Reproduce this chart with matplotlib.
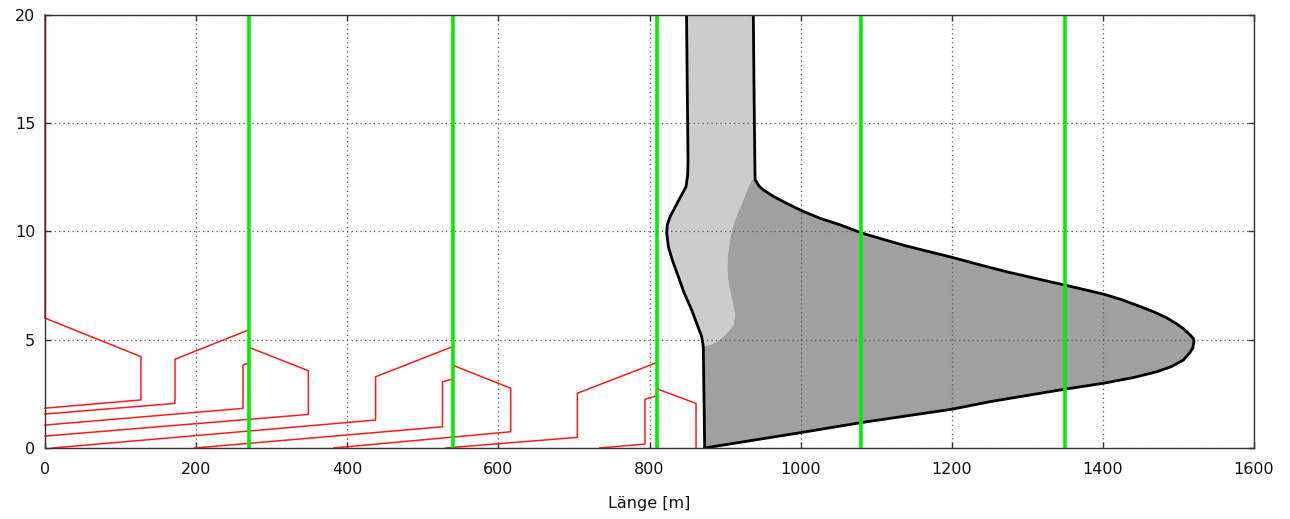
import matplotlib
matplotlib.use("Agg")
import matplotlib.pyplot as plt
import numpy as np

# ---------------- data ----------------
x_ticks = [0, 200, 400, 600, 800, 1000, 1200, 1400, 1600]
y_ticks = [0, 5, 10, 15, 20]

# green vertical markers
green_x = [270, 540, 810, 1080, 1350]

# red building / ray polylines
red0_x = [0, 0, 127, 127, 0]
red0_y = [20, 6.0, 4.22, 2.22, 1.84]

red1_x = [0, 172, 172, 270, 270, 348.5, 348.5, 0]
red1_y = [1.57, 2.06, 4.10, 5.46, 4.65, 3.57, 1.55, 0.55]

red2_x = [0, 262, 262, 270]
red2_y = [1.06, 1.83, 3.83, 3.93]

red3_x = [10, 437.5, 437.5, 540, 540, 616.3, 616.3, 382]
red3_y = [0.0, 1.29, 3.29, 4.69, 3.82, 2.76, 0.75, 0.0]

red4_x = [198, 526, 526, 540]
red4_y = [0.0, 0.98, 3.06, 3.19]

red5_x = [530, 704.5, 704.5, 810, 810, 861.6, 861.6]
red5_y = [0.0, 0.49, 2.53, 3.95, 2.73, 2.06, 0.0]

red6_x = [734, 794, 794, 810]
red6_y = [0.0, 0.18, 2.25, 2.42]

# light grey region (upper column)
light_left_x = [871.2, 869.1, 862.0, 855.9, 846.0, 838.2, 830.0, 825.0, 822.8, 823.5, 827.2, 838.0, 848.3, 850.5, 851.0, 850.0, 849.0]
light_left_y = [4.68, 5.14, 5.80, 6.37, 7.15, 7.91, 8.70, 9.30, 9.92, 10.30, 10.68, 11.40, 12.07, 12.60, 13.30, 16.5, 20.0]
light_right_x = [937.4, 938.5, 939.7]
light_right_y = [20.0, 16.0, 12.40]

# inner boundary between light and dark grey (top to bottom)
inner_x = [939.7, 935.2, 929.0, 924.2, 918.0, 913.2, 909.0, 906.6, 904.0, 903.0, 904.0, 906.6, 910.0, 913.2, 911.0, 905.0, 897.7, 889.0, 880.0, 871.2]
inner_y = [12.40, 12.38, 11.90, 11.45, 10.95, 10.53, 10.05, 9.61, 9.00, 8.37, 7.80, 7.30, 6.75, 6.22, 5.68, 5.40, 5.14, 4.90, 4.76, 4.68]

# dark grey outer boundary (from column top-right around tip back to ground)
outer_x = [939.7, 945.0, 950.7, 965.0, 981.5, 1002.0, 1025.7, 1052.0, 1080.0, 1110.0, 1140.0, 1170.0, 1200.0, 1236.0, 1272.7, 1310.0, 1349.0, 1400.6, 1425.0, 1449.6, 1468.0, 1484.0, 1497.0, 1507.0, 1515.5, 1520.0, 1520.5, 1519.0, 1515.0, 1506.5, 1490.0, 1471.0, 1440.0, 1400.6, 1348.5, 1290.0, 1250.7, 1200.0, 1079.5, 1000.0, 873.0]
outer_y = [12.40, 12.10, 11.92, 11.60, 11.30, 10.95, 10.61, 10.31, 9.94, 9.63, 9.33, 9.07, 8.81, 8.47, 8.14, 7.84, 7.53, 7.11, 6.85, 6.53, 6.28, 6.02, 5.75, 5.50, 5.22, 5.05, 4.92, 4.62, 4.40, 4.06, 3.75, 3.52, 3.25, 2.99, 2.71, 2.37, 2.14, 1.79, 1.17, 0.71, 0.0]

wall_x = [873.0, 871.2]
wall_y = [0.0, 4.68]

# ---------------- figure ----------------
plt.rcParams['font.family'] = ['DejaVu Sans']
fig = plt.figure(figsize=(12.9, 5.19), dpi=100)
ax = fig.add_axes([45/1290, 1 - 448/519, (1254-45)/1290, (448-15)/519])
ax.set_xlim(0, 1600)
ax.set_ylim(0, 20)

# fills
lx = light_left_x + light_right_x + inner_x[1:]
ly = light_left_y + light_right_y + inner_y[1:]
ax.fill(lx, ly, color='#cccccc', lw=0, zorder=1)

dx = wall_x + inner_x[::-1][1:] + outer_x[1:]
dy = wall_y + inner_y[::-1][1:] + outer_y[1:]
ax.fill(dx, dy, color='#a0a0a0', lw=0, zorder=1)

# grid on top of fills
ax.set_axisbelow(False)
ax.grid(True, color='#555555', lw=0.9, ls=(0, (1, 2.6)))

# black outlines
ax.plot(wall_x + light_left_x, wall_y + light_left_y, color='black', lw=2.0, zorder=3, solid_joinstyle='round')
ax.plot(light_right_x + outer_x[1:], light_right_y + outer_y[1:], color='black', lw=2.0, zorder=3, solid_joinstyle='round')

# red lines
for xs, ys in [(red0_x, red0_y), (red1_x, red1_y), (red2_x, red2_y), (red3_x, red3_y),
               (red4_x, red4_y), (red5_x, red5_y), (red6_x, red6_y)]:
    ax.plot(xs, ys, color='#ff1a1a', lw=1.1, zorder=3, clip_on=False)

# green markers
for gx in green_x:
    ax.axvline(gx, color='#00ee00', lw=2.6, zorder=4)

ax.set_xticks(x_ticks)
ax.set_yticks(y_ticks)
ax.tick_params(direction='in', length=4, width=1.0, color='#333333', top=True, right=True,
               labelsize=11.5, labelcolor='#111111')
ax.tick_params(axis='x', pad=10)
ax.tick_params(axis='y', pad=7)
for s in ax.spines.values():
    s.set_color('#333333')
    s.set_linewidth(1.0)
    s.set_zorder(5)

ax.set_xlabel('Länge [m]', fontsize=11.5, labelpad=14, color='#111111')

fig.savefig('out.png', dpi=100)
